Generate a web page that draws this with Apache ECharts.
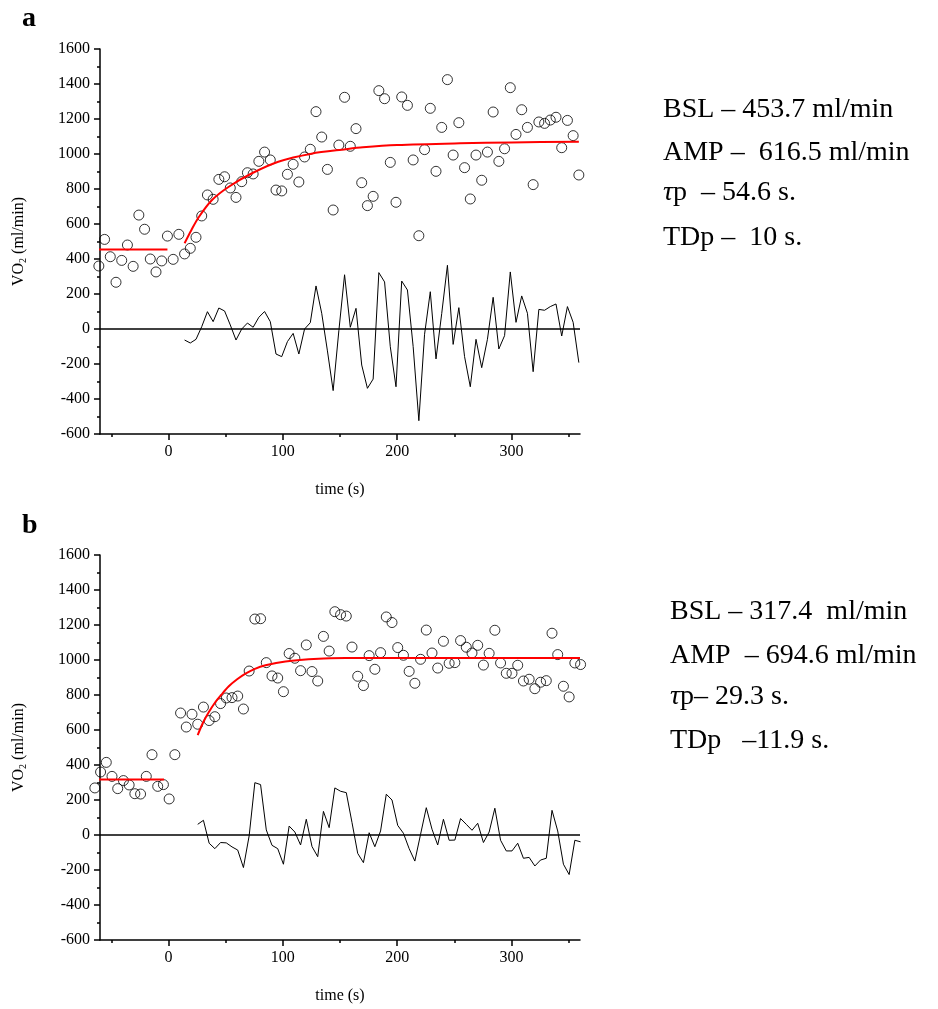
<!DOCTYPE html>
<html>
<head>
<meta charset="utf-8">
<script src="https://cdn.jsdelivr.net/npm/echarts@6/dist/echarts.min.js"></script>
<style>
html, body { margin: 0; padding: 0; background: #fff; }
#main { width: 938px; height: 1009px; }
</style>
</head>
<body>
<div id="main"></div>
<script>
// panel a : VO2 samples (s, ml/min)
var timeA = [-61,-56,-51,-46,-41,-36,-31,-26,-21,-16,-11,-6,-1,4,9,14,19,24,29,34,39,44,49,54,59,64,69,74,79,84,89,94,99,104,109,114,119,124,129,134,139,144,149,154,159,164,169,174,179,184,189,194,199,204,209,214,219,224,229,234,239,244,249,254,259,264,269,274,279,284,289,294,299,304,309,314,319,324,329,334,339,344,349,354,359];
var vo2A = [360,512,413,267,392,480,358,651,570,400,326,389,531,398,541,429,461,524,646,766,741,855,870,806,752,842,893,886,958,1011,966,794,789,884,941,840,983,1027,1242,1097,912,680,1051,1324,
	1044,1145,836,705,758,1362,1316,952,724,1326,1278,966,533,1025,1261,901,1152,1425,994,1179,922,743,994,850,1011,1240,958,1030,1379,1112,1253,1152,825,1183,1175,1194,1210,1036,1192,1105,880];
// residuals start at t = 14 (index 15 of timeA)
var resA = [-63,-80,-59,13,99,42,120,103,23,-63,0,34,10,67,100,42,-143,-158,-72,-25,-143,0,36,246,90,-125,-352,-10,310,10,118,-206,-339,-286,322,269,-101,-330,274,223,-100,-524,-30,213,-171,88,364,-88,122,-158,-330,-59,-221,-59,181,-114,-38,326,38,189,90,-244,112,107,128,143,-40,128,38,-192];
var baseTA = [-61, -1];
var baseVA = [453.7, 453.7];
var fitTA = [14, 20, 26.5, 38, 52.7, 73, 96, 125, 155, 170, 200, 255, 300, 359];
var fitVA = [490, 566, 640, 737, 813, 890, 956, 1002, 1027, 1038, 1051, 1061, 1066, 1070];

// panel b
var timeB = [-64.5,-59.5,-54.5,-49.5,-44.5,-39.5,-34.5,-29.5,-24.5,-19.5,-14.5,-9.5,-4.5,0.5,5.5,10.5,15.5,20.5,25.5,30.5,35.5,40.5,45.5,50.5,55.5,60.5,65.5,70.5,75.5,80.5,85.5,90.5,95.5,100.5,105.5,110.5,115.5,120.5,125.5,130.5,135.5,140.5,145.5,150.5,155.5,160.5,165.5,170.5,175.5,180.5,185.5,190.5,195.5,200.5,205.5,210.5,215.5,220.5,225.5,230.5,235.5,240.5,245.5,250.5,255.5,260.5,265.5,270.5,275.5,280.5,285.5,290.5,295.5,300.5,305.5,310.5,315.5,320.5,325.5,330.5,335.5,340.5,345.5,350.5,355.5,360.5];
var vo2B = [269,360,415,335,265,311,286,236,234,335,459,278,288,206,459,697,617,690,633,731,654,676,751,783,785,794,720,937,1234,1236,985,909,897,819,1037,1010,939,1086,934,880,1135,1051,1276,1259,
	1251,1074,907,854,1025,947,1042,1246,1214,1071,1027,935,867,1004,1171,1040,954,1107,981,985,1111,1073,1040,1084,971,1038,1170,983,924,924,970,880,890,836,873,882,1153,1031,850,789,983,974];
// residuals start at t = 25.5 (index 18 of timeB)
var resB = [61,84,-47,-78,-43,-45,-68,-86,-186,-5,299,288,29,-59,-78,-167,51,17,-57,90,-66,-124,135,42,269,250,242,71,-105,-158,13,-67,23,233,200,55,10,-78,-149,4,156,33,-57,90,-30,-29,94,61,27,67,-43,17,153,-30,-91,-91,-47,-133,-128,-177,-143,-133,141,23,-167,-226,-30,-39];
var baseTB = [-61, -4];
var baseVB = [317.4, 317.4];
var fitTB = [25.5, 30, 35, 41, 46, 52.7, 60, 67.3, 75, 84.8, 102.3, 131.4, 155, 200, 260, 360];
var fitVB = [571, 640, 700, 760, 800, 850, 890, 922, 948, 970, 992, 1007, 1011, 1012, 1012, 1012];

var xLabels = [0, 100, 200, 300];
var xMinor = [-50, 50, 150, 250, 350];

var textA = ['BSL – 453.7 ml/min', 'AMP –  616.5 ml/min', '{it|τ}p  – 54.6 s.', 'TDp –  10 s.'];
var textB = ['BSL – 317.4  ml/min', 'AMP  – 694.6 ml/min', '{it|τ}p– 29.3 s.', 'TDp   –11.9 s.'];

var SERIF = '"Liberation Serif", "Times New Roman", serif';

function pairs(t, v) {
	var out = [];
	for (var i = 0; i < v.length; i++) {
		out.push([t[i], v[i]]);
	}
	return out;
}

function xAxes(gi) {
	return [{
		type: 'value', gridIndex: gi, min: -60, max: 360, position: 'bottom',
		axisLine: { onZero: false, lineStyle: { color: '#000', width: 1.5 } },
		axisTick: { customValues: xLabels, length: 6, lineStyle: { color: '#000', width: 1.5 } },
		axisLabel: { customValues: xLabels, color: '#000', fontFamily: SERIF, fontSize: 16, margin: 10 },
		splitLine: { show: false },
		name: 'time (s)', nameLocation: 'middle', nameGap: 48,
		nameTextStyle: { color: '#000', fontFamily: SERIF, fontSize: 16 }
	}, {
		type: 'value', gridIndex: gi, min: -60, max: 360, position: 'bottom',
		axisLine: { show: false, onZero: false },
		axisTick: { customValues: xMinor, length: 3, lineStyle: { color: '#000', width: 1.5 } },
		axisLabel: { show: false },
		splitLine: { show: false }
	}];
}

function yAxis(gi) {
	return {
		type: 'value', gridIndex: gi, min: -600, max: 1600, interval: 200,
		axisLine: { show: true, onZero: false, lineStyle: { color: '#000', width: 1.5 } },
		axisTick: { show: true, length: 6, lineStyle: { color: '#000', width: 1.5 } },
		minorTick: { show: true, splitNumber: 2, length: 3, lineStyle: { color: '#000', width: 1.5 } },
		axisLabel: {
			color: '#000', fontFamily: SERIF, fontSize: 16, margin: 10,
			formatter: function(v) { return String(v); }
		},
		splitLine: { show: false },
		name: 'VO{s|2} (ml/min)', nameLocation: 'middle', nameGap: 72,
		nameTextStyle: {
			color: '#000', fontFamily: SERIF, fontSize: 16,
			rich: { s: { fontSize: 10, fontFamily: SERIF, color: '#000', padding: [8, 0, 0, 0] } }
		}
	};
}

function panelSeries(xi, yi, t, v, res, resStart, bt, bv, ft, fv) {
	return [{
		type: 'line', xAxisIndex: xi, yAxisIndex: yi, showSymbol: false, silent: true,
		data: pairs(t.slice(resStart), res),
		lineStyle: { color: '#000', width: 1 },
		markLine: {
			silent: true, symbol: 'none', label: { show: false },
			lineStyle: { color: '#000', width: 1.5, type: 'solid' },
			data: [{ yAxis: 0 }]
		}
	}, {
		type: 'line', xAxisIndex: xi, yAxisIndex: yi, showSymbol: false,
		data: pairs(bt, bv), lineStyle: { color: '#ff0000', width: 2 }
	}, {
		type: 'line', xAxisIndex: xi, yAxisIndex: yi, showSymbol: false,
		smooth: 0.3,
		data: pairs(ft, fv), lineStyle: { color: '#ff0000', width: 2 }
	}, {
		type: 'scatter', xAxisIndex: xi, yAxisIndex: yi, clip: false,
		symbol: 'circle', symbolSize: 10,
		itemStyle: { color: 'rgba(0,0,0,0)', borderColor: '#000', borderWidth: 1 },
		data: pairs(t, v)
	}];
}

function annot(lines, x, ys) {
	var out = [];
	for (var i = 0; i < lines.length; i++) {
		out.push({
			type: 'text', x: x, y: ys[i],
			style: {
				text: lines[i], fill: '#000', font: '28px ' + SERIF,
				align: 'left', verticalAlign: 'middle',
				rich: { it: { fontStyle: 'italic', fontSize: 28, fontFamily: SERIF } }
			}
		});
	}
	return out;
}

var myChart = echarts.init(document.getElementById('main'));
var option = {
	animation: false,
	backgroundColor: '#fff',
	grid: [
		{ left: 100, top: 49, width: 480, height: 385 },
		{ left: 100, top: 555, width: 480, height: 385 }
	],
	xAxis: xAxes(0).concat(xAxes(1)),
	yAxis: [yAxis(0), yAxis(1)],
	series: panelSeries(0, 0, timeA, vo2A, resA, 15, baseTA, baseVA, fitTA, fitVA)
		.concat(panelSeries(2, 1, timeB, vo2B, resB, 18, baseTB, baseVB, fitTB, fitVB)),
	graphic: [
		{ type: 'text', left: 22, top: 5, style: { text: 'a', fill: '#000', font: 'bold 28px ' + SERIF } },
		{ type: 'text', left: 22, top: 512, style: { text: 'b', fill: '#000', font: 'bold 28px ' + SERIF } }
	].concat(annot(textA, 663, [110, 153, 193, 238])).concat(annot(textB, 670, [612, 656, 697, 741]))
};
myChart.setOption(option);
</script>
</body>
</html>
